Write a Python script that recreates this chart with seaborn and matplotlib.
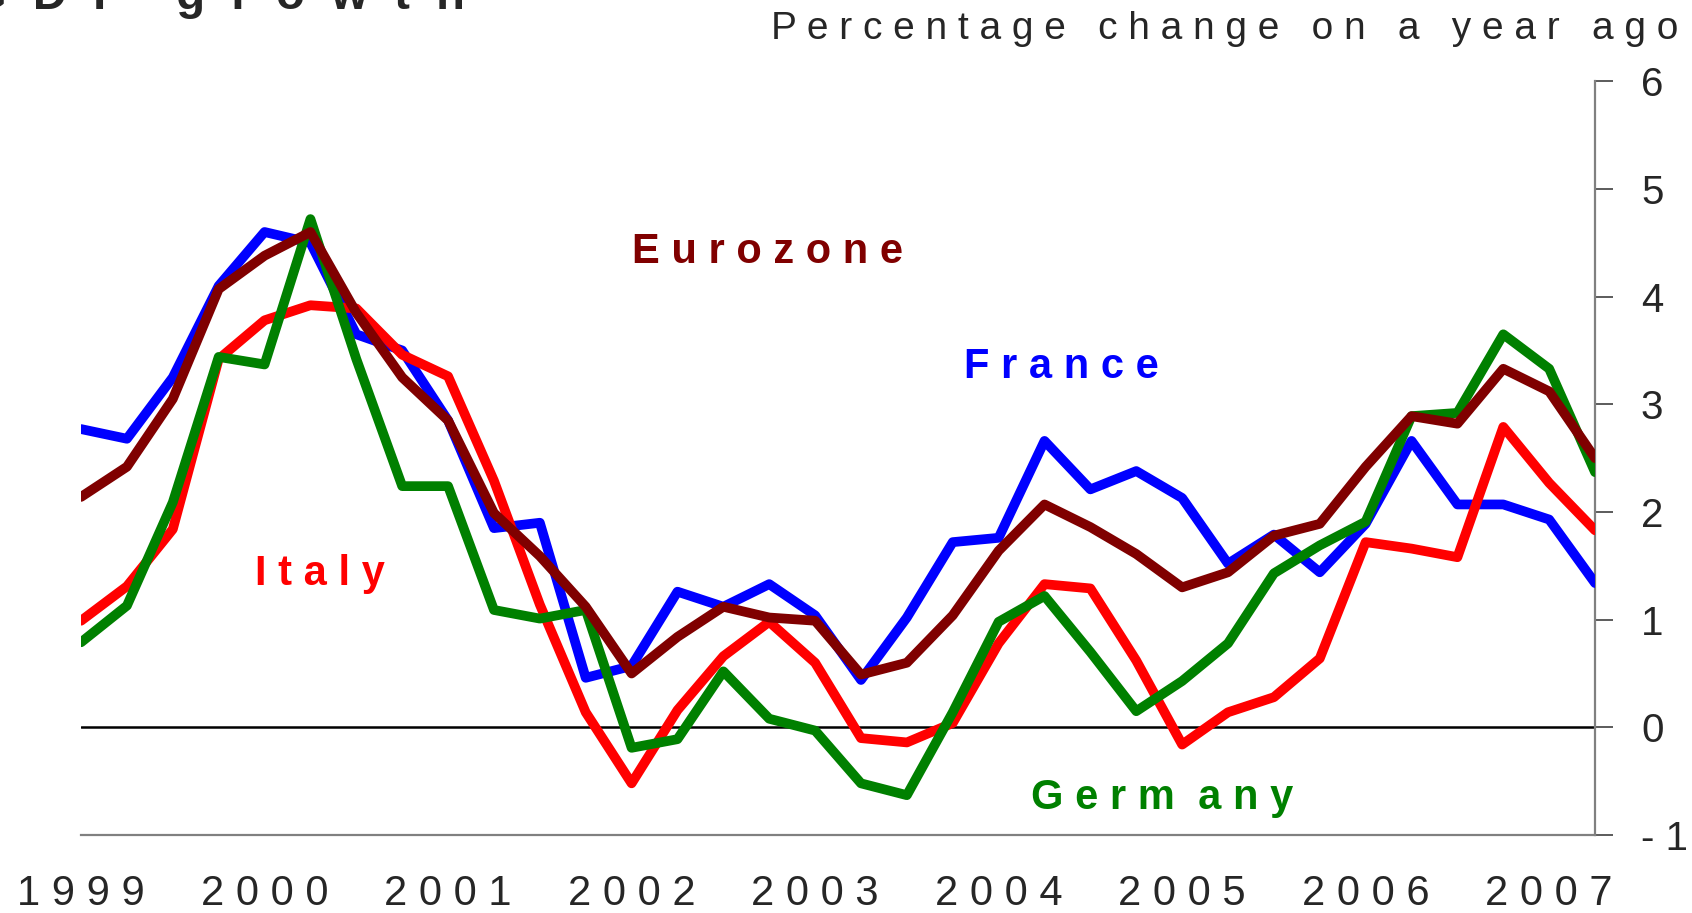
import numpy as np
import pandas as pd
import matplotlib
matplotlib.use("Agg")
import matplotlib.pyplot as plt
import seaborn as sns

# quarterly, 1999 Q1 .. 2007 Q2, % change on a year ago
FRANCE = [2.77, 2.68, 3.25, 4.10, 4.60, 4.50, 3.65, 3.50, 2.85, 1.85,
          1.90, 0.46, 0.57, 1.26, 1.12, 1.33, 1.04, 0.44, 1.02, 1.72,
          1.76, 2.66, 2.21, 2.38, 2.13, 1.52, 1.79, 1.44, 1.89, 2.66,
          2.07, 2.07, 1.93, 1.34]
ITALY = [0.99, 1.31, 1.84, 3.42, 3.78, 3.92, 3.89, 3.46, 3.26, 2.29,
         1.14, 0.14, -0.52, 0.16, 0.66, 0.98, 0.60, -0.10, -0.14, 0.04,
         0.78, 1.33, 1.29, 0.62, -0.16, 0.14, 0.28, 0.64, 1.72, 1.66,
         1.58, 2.79, 2.27, 1.83]
GERMANY = [0.79, 1.13, 2.09, 3.44, 3.37, 4.72, 3.42, 2.24, 2.24, 1.09,
           1.01, 1.09, -0.19, -0.11, 0.52, 0.08, -0.03, -0.52, -0.63, 0.14,
           0.98, 1.22, 0.70, 0.15, 0.43, 0.78, 1.43, 1.69, 1.91, 2.89,
           2.92, 3.65, 3.33, 2.37]
EUROZONE = [2.14, 2.42, 3.05, 4.07, 4.38, 4.60, 3.85, 3.25, 2.85, 1.99,
            1.59, 1.12, 0.50, 0.84, 1.12, 1.02, 0.99, 0.49, 0.60, 1.04,
            1.64, 2.07, 1.86, 1.61, 1.30, 1.44, 1.78, 1.89, 2.42, 2.89,
            2.82, 3.33, 3.12, 2.50]

YEARS = ["1999", "2000", "2001", "2002", "2003", "2004", "2005", "2006", "2007"]
Y_TICKS = [-1, 0, 1, 2, 3, 4, 5, 6]

COLORS = {"France": "#0000ff", "Italy": "#ff0000",
          "Germany": "#008000", "Eurozone": "#800000"}

series = {"France": FRANCE, "Italy": ITALY, "Germany": GERMANY, "Eurozone": EUROZONE}
df = pd.concat([pd.DataFrame({"t": np.arange(len(v)), "growth": v, "country": k})
                for k, v in series.items()], ignore_index=True)

sns.set_style("white")
plt.rcParams["font.family"] = ["Liberation Sans", "DejaVu Sans"]

fig = plt.figure(figsize=(16.92, 9.13), dpi=100)
ax = fig.add_axes([0.0479, 0.0854, 0.8948, 0.8256])

ax.axhline(0, color="black", lw=1.8, zorder=1)
sns.lineplot(data=df, x="t", y="growth", hue="country", palette=COLORS,
             legend=False, ax=ax, zorder=3, linewidth=7,
             solid_joinstyle="round", solid_capstyle="round")

ax.set_xlim(0, 33)
ax.set_ylim(-1, 6)
ax.set_xlabel("")
ax.set_ylabel("")

# axes look: right and bottom only, grey
for s in ["left", "top"]:
    ax.spines[s].set_visible(False)
for s in ["right", "bottom"]:
    ax.spines[s].set_color("#808080")
    ax.spines[s].set_linewidth(1.6)

ax.yaxis.tick_right()
ax.set_yticks(Y_TICKS)
ax.set_yticklabels(["- 1" if v < 0 else str(v) for v in Y_TICKS], fontsize=29)
ax.tick_params(axis="y", direction="out", length=13, width=1.2, color="#404040", pad=20)

ax.set_xticks(np.arange(0, 33, 4))
ax.set_xticklabels([" ".join(y) for y in YEARS], fontsize=30)
ax.tick_params(axis="x", direction="in", length=13, width=1.0, color="#404040", pad=28)

# series labels
lab = dict(fontsize=30, fontweight="bold", va="center", ha="left")
ax.text(12.0, 4.41, "E u r o z o n e", color=COLORS["Eurozone"], **lab)
ax.text(19.25, 3.35, "F r a n c e", color=COLORS["France"], **lab)
ax.text(3.8, 1.42, "I t a l y", color=COLORS["Italy"], **lab)
ax.text(20.7, -0.66, "G e r m  a n y", color=COLORS["Germany"], **lab)

fig.text(0.992, 0.968, "P e r c e n t a g e   c h a n g e   o n   a   y e a r   a g o",
         ha="right", va="center", fontsize=28)
fig.text(-0.018, 0.990, "G  D  P    g  r  o  w  t  h", ha="left", va="baseline",
         fontsize=34, fontweight="bold")

fig.savefig("out.png", dpi=100)
